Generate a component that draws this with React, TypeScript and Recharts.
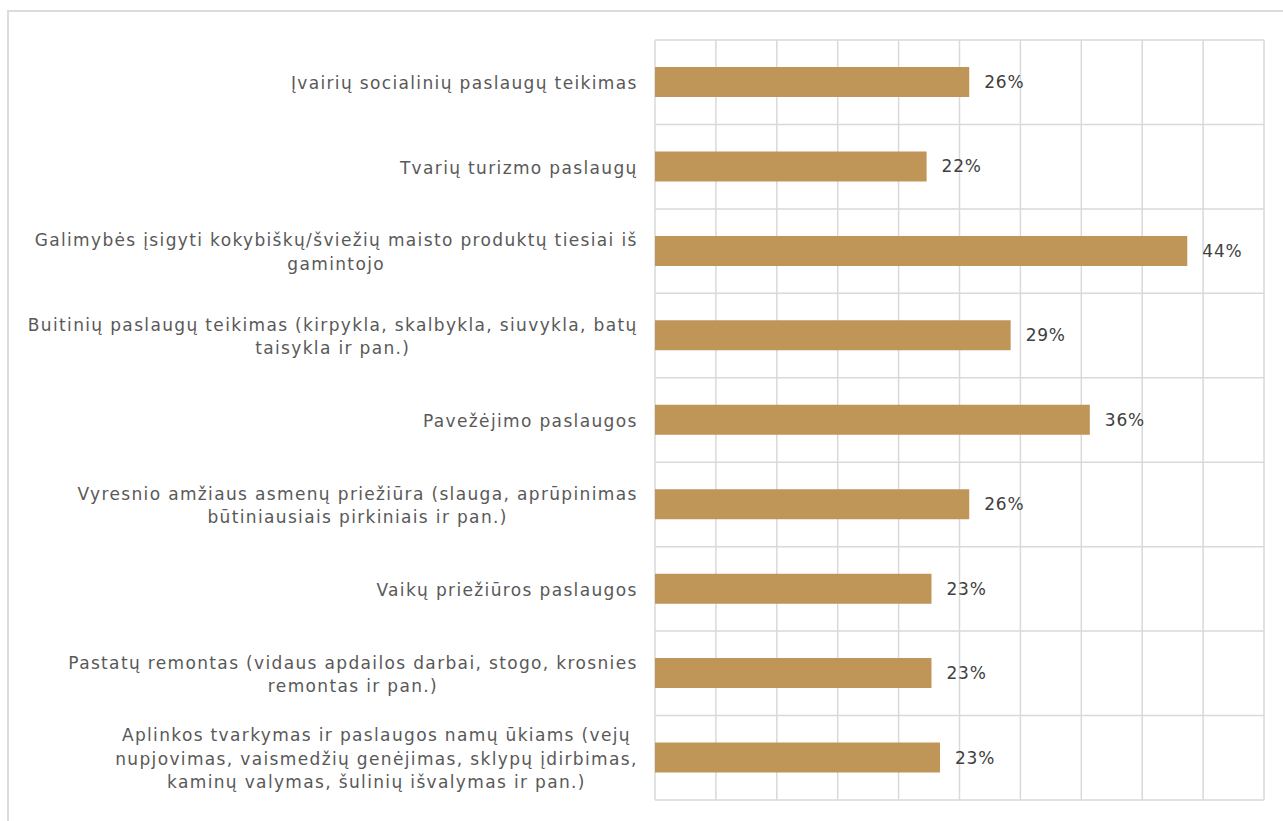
import React from "react";
import { BarChart, Bar, XAxis, YAxis, CartesianGrid, LabelList } from "recharts";

const categories = [
  "Įvairių socialinių paslaugų teikimas",
  "Tvarių turizmo paslaugų",
  "Galimybės įsigyti kokybiškų/šviežių maisto produktų tiesiai iš\ngamintojo",
  "Buitinių paslaugų teikimas (kirpykla, skalbykla, siuvykla, batų\ntaisykla ir pan.)",
  "Pavežėjimo paslaugos",
  "Vyresnio amžiaus asmenų priežiūra (slauga, aprūpinimas\nbūtiniausiais pirkiniais ir pan.)",
  "Vaikų priežiūros paslaugos",
  "Pastatų remontas (vidaus apdailos darbai, stogo, krosnies\nremontas ir pan.)",
  "Aplinkos tvarkymas ir paslaugos namų ūkiams (vejų\nnupjovimas, vaismedžių genėjimas, sklypų įdirbimas,\nkaminų valymas, šulinių išvalymas ir pan.)",
];
const values = [25.8, 22.3, 43.7, 29.2, 35.7, 25.8, 22.7, 22.7, 23.4];
const valueLabels = ["26%", "22%", "44%", "29%", "36%", "26%", "23%", "23%", "23%"];
const xTicks = [0, 5, 10, 15, 20, 25, 30, 35, 40, 45, 50];

const data = categories.map((name, i) => ({ name, value: values[i], label: valueLabels[i] }));

const FONT = "'DejaVu Sans', sans-serif";
const FONT_SIZE = 17;
const LETTER_SP = 1.35;
const LINE_H = 23.5;
const TEXT_COLOR = "#595959";

let ctx: CanvasRenderingContext2D | null = null;
const measure = (t: string) => {
  if (!ctx) ctx = document.createElement("canvas").getContext("2d");
  if (!ctx) return t.length * 9;
  ctx.font = `${FONT_SIZE}px ${FONT}`;
  return ctx.measureText(t).width + LETTER_SP * (t.length - 1);
};

const CategoryTick = (props: any) => {
  const { x, y, payload } = props;
  const lines: string[] = String(payload.value).split("\n");
  const maxW = Math.max(...lines.map(measure));
  const right = x - 10;
  const cx = right - maxW / 2;
  const y0 = y + 1 - ((lines.length - 1) * LINE_H) / 2;
  return (
    <text
      x={cx}
      y={y0}
      textAnchor="middle"
      dominantBaseline="central"
      fill={TEXT_COLOR}
      fontSize={FONT_SIZE}
      fontFamily={FONT}
      letterSpacing={LETTER_SP}
    >
      {lines.map((l, i) => (
        <tspan key={i} x={cx} y={y0 + i * LINE_H}>
          {l}
        </tspan>
      ))}
    </text>
  );
};

export default function App() {
  return (
    <div style={{ position: "relative", width: 1283, height: 821, overflow: "hidden", background: "#fff" }}>
      <style>{"body{margin:0;overflow:hidden}"}</style>
      <div
        style={{
          position: "absolute",
          left: 7,
          top: 10,
          width: 1300,
          height: 840,
          border: "2px solid #dcdcdc",
          boxSizing: "border-box",
        }}
      />
      <div style={{ position: "absolute", left: 0, top: 0 }}>
        <BarChart
          width={1283}
          height={821}
          data={data}
          layout="vertical"
          margin={{ top: 40, right: 19, bottom: 21, left: 0 }}
        >
          <CartesianGrid
            stroke="#d9d9d9"
            strokeWidth={1.5}
            horizontalCoordinatesGenerator={({ offset }: any) =>
              categories.map((_, i) => offset.top + (i * offset.height) / categories.length).concat([offset.top + offset.height])
            }
          />
          <XAxis type="number" domain={[0, 50]} ticks={xTicks} hide />
          <YAxis
            type="category"
            dataKey="name"
            width={655}
            axisLine={false}
            tickLine={false}
            interval={0}
            tick={<CategoryTick />}
          />
          <Bar dataKey="value" fill="#BF9558" barSize={30} isAnimationActive={false}>
            <LabelList
              dataKey="label"
              position="right"
              offset={15}
              fill="#404040"
              fontSize={17}
              fontFamily={FONT}
              letterSpacing={0.8}
            />
          </Bar>
        </BarChart>
      </div>
    </div>
  );
}
